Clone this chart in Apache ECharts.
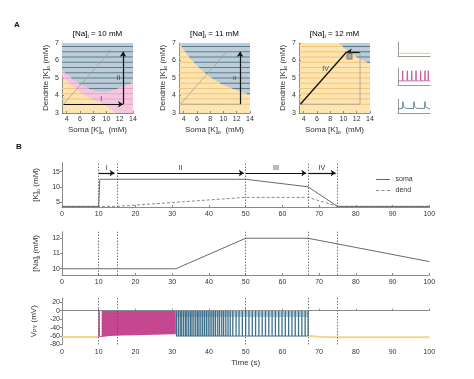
<!DOCTYPE html>
<html><head><meta charset="utf-8">
<script src="https://cdn.jsdelivr.net/npm/echarts@6/dist/echarts.min.js"></script>
<style>html,body{margin:0;padding:0;background:#fff}#c{width:474px;height:379px}</style>
</head><body><div id="c"></div>
<script>
// ---------------- Panel A data ----------------
const naLevels = ['10', '11', '12'];
const aXTicks = [4, 6, 8, 10, 12, 14];
const aYTicks = [3, 4, 5, 6, 7];
const hLevels = [3.5, 3.8, 4.1, 4.4, 4.7, 5.0, 5.3, 5.6, 5.9, 6.2, 6.5, 6.8];
// region boundaries: [soma K, dend K]
const blueEdge10 = [[3.3,5.45],[4,5.2],[5,4.9],[6,4.65],[7,4.45],[8,4.3],[9,4.2],[10,4.2],[11,4.3],[12,4.45],[13,4.6],[14,4.75]];
const pinkEdge10 = [[3.3,5.1],[4,4.85],[5,4.5],[6,4.2],[7,3.95],[8,3.75],[9,3.6],[10,3.4],[11,3.15],[11.5,3.0],[14,3.0]];
const blueEdge11 = [[3.3,7.0],[4,6.6],[5,6.1],[6,5.7],[7,5.35],[8,5.05],[9,4.8],[10,4.6],[11,4.45],[12,4.3],[13,4.15],[14,4.05]];
const blueEdge12 = [[9.3,7.0],[10,6.75],[11,6.45],[12,6.2],[13,6.0],[14,5.8]];
// trajectory corners (soma K, dend K)
const pathI = [[3.5,3.5],[12.5,3.5]];
const pathII = [[12.5,3.5],[12.5,6.5]];
const pathIII = [[12.5,6.5],[10.5,6.5]];
const pathIV = [[10.5,6.5],[3.5,3.5]];
// small example traces
const iconYellow = [[0.5,1.9],[32,1.9]];
const iconMagenta = [[0,2.4],[4.3,2.4],[4.7,8.4],[5.1,2.4],[8.9,2.4],[9.3,8.4],[9.7,2.4],[13.3,2.4],[13.7,8.4],[14.1,2.4],[17.6,2.4],[18,8.4],[18.4,2.4],[22.3,2.4],[22.7,8.4],[23.1,2.4],[26.6,2.4],[27,8.4],[27.4,2.4],[29.9,2.4],[30.3,8.4],[30.7,2.4],[32,2.4]];
const iconBlue = [[0,2.9],[4.5,3.2],[5,8.1],[5.4,4.5],[6,5.5],[6.6,4.2],[8,3.3],[10,2.9],[15.5,3.2],[16,8.1],[16.4,4.5],[17,5.5],[17.6,4.2],[19,3.3],[21,2.9],[26.5,3.2],[27,8.1],[27.4,4.5],[28,5.5],[28.6,4.2],[30,3.3],[32,2.9]];

// ---------------- Panel B data ----------------
const phaseBounds = [10, 15, 50, 67, 75];
const phaseArrows = [['I',10,14.3],['II',15,49.5],['III',50,66.5],['IV',67,74.5]];
const somaT = [0, 10, 10.3, 50, 67, 75, 100];
const somaK = [3.5, 3.5, 12.5, 12.5, 10.0, 3.5, 3.5];
const dendT = [0, 15, 50, 67, 75, 100];
const dendK = [3.5, 3.5, 6.5, 6.5, 3.5, 3.5];
const naT = [0, 31, 50, 67, 100];
const naV = [10, 10, 12, 12, 10.47];
const kTicks = [5, 10, 15];
const naTicks = [10, 11, 12];
const vTicks = [-80, -60, -40, -20, 0, 20];
const restT1 = [0, 10];
const restV1 = [-62, -62];
const restT2 = [67.2, 68, 69, 71, 75, 80, 90, 100];
const restV2 = [-61, -60, -61, -62, -63, -63, -63, -63];
const firstSpikeT = [10, 10.1, 10.25, 10.8];
const firstSpikeV = [-62, -1, -61, -61];
const pinkT = [10.8, 13, 16, 20, 25, 30, 31];
const pinkLow = [-62, -60, -59, -58, -57, -56, -56];
const pinkHigh = [-1, -1, -1, -1, -1, -1, -1];
const blueBandT = [31, 67];
const blueBandLow = [-15, -15];
const blueBandHigh = [0, 0];
const blueSpikeT = [31.2,31.7,32.2,32.6,33.1,33.6,34.0,34.5,35.0,35.4,35.9,36.4,36.9,37.3,37.8,38.3,38.8,39.3,39.8,40.3,40.8,41.3,41.8,42.4,42.9,43.5,44.0,44.6,45.2,45.8,
  46.5,47.4,48.2,49.1,50.0,50.9,51.8,52.7,53.6,54.5,55.4,56.3,57.2,58.1,59.0,59.9,60.8,61.7,62.6,63.5,64.4,65.3,66.2,67.0];
const blueTrough = -60, bluePeak = 0;

// ---------------- rendering ----------------
const FONT = '"Liberation Sans", Arial, sans-serif';
const AX = '#8a8a8a', TXT = '#333';
const C_YEL = '#fde4b3', C_PINK = '#f5c7df', C_BLUE = '#bdcdd8';
const L_YEL = '#f4c46e', L_PINK = '#e9a3c9', L_BLUE = '#5f7c8e';
const rich = {
  a: {fontSize: 8, fontFamily: FONT, color: TXT},
  s: {fontSize: 5.5, fontFamily: FONT, color: TXT, padding: [5, 0, 0, 0]}
};
const zip = (a, b) => a.map((v, i) => [v, b[i]]);

const aGrid = [62, 179, 299].map(l => ({left: l, top: 43, width: 71, height: 70,
  show: true, backgroundColor: C_YEL, borderWidth: 0}));
const iconGrid = [
  {left: 398, top: 42, width: 32, height: 14},
  {left: 398, top: 68, width: 32, height: 17},
  {left: 398, top: 99, width: 32, height: 14}
];
const bGrid = [
  {left: 62, top: 162.7, width: 367.3, height: 44.3},
  {left: 62, top: 231.7, width: 367.3, height: 43.3},
  {left: 62, top: 298, width: 367.3, height: 46.5}
];
const grids = aGrid.concat(iconGrid, bGrid);

const xAxes = [], yAxes = [];
aGrid.forEach((g, i) => {
  xAxes.push({gridIndex: i, type: 'value', min: 3.3, max: 14,
    axisLine: {show: true, lineStyle: {color: AX}},
    axisTick: {show: true, inside: true, length: 2, customValues: aXTicks, lineStyle: {color: AX}},
    axisLabel: {customValues: aXTicks, fontSize: 7, fontFamily: FONT, color: TXT, margin: 3},
    splitLine: {show: false},
    name: '{a|Soma [K]}{s|o}{a|  (mM)}', nameLocation: 'middle', nameGap: 11,
    nameTextStyle: {rich}});
  yAxes.push({gridIndex: i, type: 'value', min: 3, max: 7, interval: 1,
    axisLine: {show: true, lineStyle: {color: AX}},
    axisTick: {show: true, inside: true, length: 2, lineStyle: {color: AX}},
    axisLabel: {fontSize: 7, fontFamily: FONT, color: TXT, margin: 3},
    splitLine: {show: false},
    name: '{a|Dendrite [K]}{s|o}{a| (mM)}', nameLocation: 'middle', nameGap: 10,
    nameTextStyle: {rich}});
});
iconGrid.forEach((g, i) => {
  xAxes.push({gridIndex: 3 + i, type: 'value', min: 0, max: 32,
    axisLine: {show: true, lineStyle: {color: '#999'}}, axisTick: {show: false}, axisLabel: {show: false}, splitLine: {show: false}});
  yAxes.push({gridIndex: 3 + i, type: 'value', min: 0, max: 10,
    axisLine: {show: true, lineStyle: {color: '#999'}}, axisTick: {show: false}, axisLabel: {show: false}, splitLine: {show: false}});
});
const bY = [
  {min: 3.3, max: 18, ticks: kTicks, name: '{a|[K]}{s|o}{a| (mM)}', gap: 14},
  {min: 9.59, max: 12.43, ticks: naTicks, name: '{a|[Na]}{s|i}{a| (mM)}', gap: 14},
  {min: -80, max: 30, ticks: vTicks, name: '{a|V}{s|PY}{a| (mV)}', gap: 18}
];
bGrid.forEach((g, i) => {
  const xa = {gridIndex: 6 + i, type: 'value', min: 0, max: 100, interval: 10,
    axisLine: {show: true, lineStyle: {color: AX}},
    axisTick: {show: true, inside: true, length: 2, lineStyle: {color: AX}},
    axisLabel: {fontSize: 7, fontFamily: FONT, color: TXT, margin: 4},
    splitLine: {show: false}};
  if (i === 2) {
    xa.name = 'Time (s)'; xa.nameLocation = 'middle'; xa.nameGap = 14;
    xa.nameTextStyle = {fontSize: 8, fontFamily: FONT, color: TXT};
  }
  xAxes.push(xa);
  yAxes.push({gridIndex: 6 + i, type: 'value', min: bY[i].min, max: bY[i].max,
    axisLine: {show: true, lineStyle: {color: AX}},
    axisTick: {show: true, length: 2, customValues: bY[i].ticks, lineStyle: {color: AX}},
    axisLabel: {customValues: bY[i].ticks, fontSize: 7, fontFamily: FONT, color: TXT, margin: 2},
    splitLine: {show: false},
    name: bY[i].name, nameLocation: 'middle', nameGap: bY[i].gap, nameTextStyle: {rich}});
});

function edgeAt(edge, x) {
  if (!edge || x < edge[0][0] || x > edge[edge.length - 1][0]) return Infinity;
  for (let k = 1; k < edge.length; k++) {
    if (x <= edge[k][0]) {
      const [x0, y0] = edge[k - 1], [x1, y1] = edge[k];
      return y0 + (y1 - y0) * (x - x0) / (x1 - x0);
    }
  }
  return Infinity;
}
function polySeries(gi, pts, color, z) {
  return {type: 'custom', xAxisIndex: gi, yAxisIndex: gi, z, silent: true, clip: true,
    data: [[pts[0][0], pts[0][1]]],
    renderItem: (p, api) => ({type: 'polygon', shape: {points: pts.map(q => api.coord(q))}, style: {fill: color}})};
}
function hlineSeries(gi, blueEdge, pinkEdge) {
  return {type: 'custom', xAxisIndex: gi, yAxisIndex: gi, z: 3, silent: true, clip: true,
    data: [[3.3, 3]],
    renderItem: (p, api) => {
      const children = [];
      const region = (x, y) => y >= edgeAt(blueEdge, x) ? 'b' : (y >= edgeAt(pinkEdge, x) ? 'p' : 'y');
      const col = {b: L_BLUE, p: L_PINK, y: L_YEL};
      hLevels.forEach(y => {
        let x0 = 3.3, r0 = region(3.3, y);
        for (let x = 3.35; x <= 14.001; x += 0.05) {
          const r = region(x, y);
          if (r !== r0 || x >= 13.999) {
            const a = api.coord([x0, y]), b = api.coord([x, y]);
            children.push({type: 'line', shape: {x1: a[0], y1: a[1], x2: b[0], y2: b[1]},
              style: {stroke: col[r0], lineWidth: r0 === 'b' ? 1.1 : 1}});
            x0 = x; r0 = r;
          }
        }
      });
      return {type: 'group', children};
    }};
}
function arrowSeries(gi, paths, color, width) {
  return {type: 'line', xAxisIndex: gi, yAxisIndex: gi, data: [], z: 6, silent: true,
    markLine: {silent: true, animation: false, symbol: ['none', 'arrow'], symbolSize: 5,
      lineStyle: {color, width, type: 'solid'},
      label: {show: false},
      data: paths.map(pp => [{coord: pp[0]}, {coord: pp[1]}])}};
}
function grayLines(gi, paths) {
  return paths.map(pp => ({type: 'line', xAxisIndex: gi, yAxisIndex: gi, data: pp, z: 5, silent: true,
    symbol: 'none', lineStyle: {color: '#a0a0a0', width: 0.8}}));
}
function labelSeries(gi, items, fs) {
  return {type: 'scatter', xAxisIndex: gi, yAxisIndex: gi, symbolSize: 0, z: 7, silent: true,
    data: items.map(it => ({value: [it[1], it[2]], name: it[0]})),
    label: {show: true, position: 'inside', formatter: '{b}', fontSize: fs || 7, fontFamily: FONT, color: '#222'}};
}

const series = [];
// Panel A plot 1
series.push(polySeries(0, pinkEdge10.concat([[14, 7], [3.3, 7]]), C_PINK, 1));
series.push(polySeries(0, blueEdge10.concat([[14, 7], [3.3, 7]]), C_BLUE, 2));
series.push(hlineSeries(0, blueEdge10, pinkEdge10));
series.push(...grayLines(0, [pathIV]));
series.push(arrowSeries(0, [pathI, pathII], '#111', 1.2));
series.push(labelSeries(0, [['I', 9.2, 3.78], ['II', 11.8, 5.0]]));
// Panel A plot 2
series.push(polySeries(1, blueEdge11.concat([[14, 7], [3.3, 7]]), C_BLUE, 2));
series.push(hlineSeries(1, blueEdge11, null));
series.push(...grayLines(1, [pathI, pathIV]));
series.push(arrowSeries(1, [pathII], '#111', 1.2));
series.push(labelSeries(1, [['II', 11.7, 5.0]], 6));
// Panel A plot 3
series.push(polySeries(2, blueEdge12.concat([[14, 7]]), C_BLUE, 2));
series.push(hlineSeries(2, blueEdge12, null));
series.push(...grayLines(2, [pathI, pathII]));
series.push(arrowSeries(2, [pathIII], '#111', 1.2));
series.push({type: 'line', xAxisIndex: 2, yAxisIndex: 2, data: pathIV, z: 6, silent: true, symbol: 'none', lineStyle: {color: '#111', width: 1.3}});
series.push(labelSeries(2, [['IV', 7.3, 5.5]]));
series.push({type: 'scatter', xAxisIndex: 2, yAxisIndex: 2, symbolSize: 0, z: 7, silent: true,
  data: [{value: [10.9, 6.25], name: 'III'}],
  label: {show: true, position: 'inside', formatter: '{b}', fontSize: 5, fontFamily: FONT, color: '#ddd', backgroundColor: '#777', padding: [1, 1]}});
// icons
series.push({type: 'line', xAxisIndex: 3, yAxisIndex: 3, data: iconYellow, symbol: 'none', lineStyle: {color: '#f0c86a', width: 1}});
series.push({type: 'line', xAxisIndex: 4, yAxisIndex: 4, data: iconMagenta, symbol: 'none', lineStyle: {color: '#c4478f', width: 0.8}});
series.push({type: 'line', xAxisIndex: 5, yAxisIndex: 5, data: iconBlue, symbol: 'none', lineStyle: {color: '#3e6f89', width: 0.8}});

// Panel B
const vLines = {silent: true, animation: false, symbol: 'none', label: {show: false},
  lineStyle: {color: '#555', type: [1.5, 1.5], width: 0.8}, data: phaseBounds.map(v => ({xAxis: v}))};
series.push({name: 'soma', type: 'line', xAxisIndex: 6, yAxisIndex: 6, data: zip(somaT, somaK), symbol: 'none',
  lineStyle: {color: '#6a6a6a', width: 1}, itemStyle: {color: '#6a6a6a'}, z: 4,
  markLine: {silent: true, animation: false, symbol: ['none', 'arrow'], symbolSize: 5,
    lineStyle: {color: '#111', width: 1.2, type: 'solid'},
    label: {show: true, position: 'middle', distance: 2, fontSize: 7, fontFamily: FONT, color: '#333', formatter: p => p.name},
    data: phaseArrows.map(a => [{name: a[0], coord: [a[1], 14.55]}, {coord: [a[2], 14.55]}])}});
series.push({name: 'dend', type: 'line', xAxisIndex: 6, yAxisIndex: 6, data: zip(dendT, dendK), symbol: 'none',
  lineStyle: {color: '#8a8a8a', width: 1, type: [3, 2]}, itemStyle: {color: '#8a8a8a'}, z: 3, markLine: vLines});
series.push({type: 'line', xAxisIndex: 7, yAxisIndex: 7, data: zip(naT, naV), symbol: 'none',
  lineStyle: {color: '#6a6a6a', width: 1}, markLine: vLines});
// V trace
function bandSeries(gi, T, lo, hi, color, z) {
  return {type: 'custom', xAxisIndex: gi, yAxisIndex: gi, z, silent: true, clip: true,
    data: [[T[0], lo[0]]],
    renderItem: (p, api) => {
      const pts = T.map((t, i) => api.coord([t, hi[i]])).concat(T.map((t, i) => api.coord([t, lo[i]])).reverse());
      return {type: 'polygon', shape: {points: pts}, style: {fill: color}};
    }};
}
series.push({type: 'line', xAxisIndex: 8, yAxisIndex: 8, data: zip(restT1, restV1), symbol: 'none', lineStyle: {color: '#f2d48c', width: 2}});
series.push({type: 'line', xAxisIndex: 8, yAxisIndex: 8, data: zip(restT2, restV2), symbol: 'none', lineStyle: {color: '#f2d48c', width: 2}, markLine: vLines});
series.push({type: 'line', xAxisIndex: 8, yAxisIndex: 8, data: zip(firstSpikeT, firstSpikeV), symbol: 'none', lineStyle: {color: '#c4478f', width: 1}});
series.push(bandSeries(8, pinkT, pinkLow, pinkHigh, '#c4478f', 2));
series.push(bandSeries(8, blueBandT, blueBandLow, blueBandHigh, '#b5ccd9', 2));
series.push({type: 'custom', xAxisIndex: 8, yAxisIndex: 8, z: 3, silent: true, clip: true,
  data: blueSpikeT.map(t => [t, blueTrough, bluePeak]),
  encode: {x: 0, y: [1, 2]},
  renderItem: (p, api) => {
    const a = api.coord([api.value(0), api.value(1)]), b = api.coord([api.value(0), api.value(2)]);
    return {type: 'line', shape: {x1: a[0], y1: a[1], x2: b[0], y2: b[1]}, style: {stroke: '#3e6f89', lineWidth: 1.3}};
  }});
series.push({type: 'line', xAxisIndex: 8, yAxisIndex: 8, data: [[31, blueTrough], [67, blueTrough]], symbol: 'none', lineStyle: {color: '#3e6f89', width: 1}});

const legendData = [
  {name: 'soma', icon: 'path://M0,0h14v1h-14z'},
  {name: 'dend', icon: 'path://M0,0h3v1h-3z M5.5,0h3v1h-3z M11,0h3v1h-3z'}
];
const option = {
  animation: false,
  backgroundColor: '#fff',
  grid: grids,
  xAxis: xAxes,
  yAxis: yAxes,
  legend: {data: legendData, left: 371, top: 171, orient: 'vertical', itemGap: 4, itemWidth: 15, itemHeight: 1,
    textStyle: {fontSize: 7, fontFamily: FONT, color: '#333'}, selectedMode: false},
  graphic: [
    {type: 'text', x: 17, y: 25, style: {text: 'A', font: 'bold 8px ' + FONT, fill: '#111', textAlign: 'center', textVerticalAlign: 'middle'}},
    {type: 'text', x: 19, y: 147, style: {text: 'B', font: 'bold 8px ' + FONT, fill: '#111', textAlign: 'center', textVerticalAlign: 'middle'}}
  ].concat(aGrid.map((g, i) => ({type: 'text', x: g.left + g.width / 2, y: 34,
    style: {text: '{a|[Na]}{s|i}{a| = ' + naLevels[i] + ' mM}', rich, textAlign: 'center', textVerticalAlign: 'middle'}}))),
  series
};
const chart = echarts.init(document.getElementById('c'));
chart.setOption(option);
</script>
</body></html>
